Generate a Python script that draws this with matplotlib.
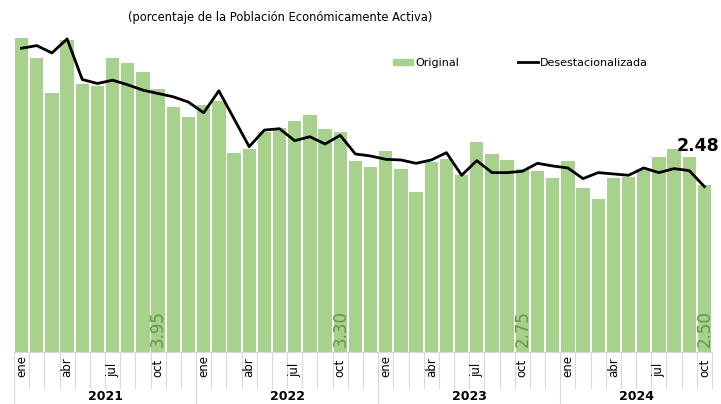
import matplotlib
matplotlib.use("Agg")
import matplotlib.pyplot as plt
from matplotlib.patches import Patch
from matplotlib.lines import Line2D
from matplotlib.transforms import blended_transform_factory

# datos mensuales ene-2021 a oct-2024
original = [4.72, 4.42, 3.88, 4.68, 4.02, 4.00, 4.41, 4.34, 4.21, 3.95, 3.68, 3.53,
            3.71, 3.77, 2.99, 3.05, 3.30, 3.36, 3.46, 3.56, 3.35, 3.30, 2.86, 2.77,
            3.02, 2.74, 2.40, 2.85, 2.89, 2.65, 3.15, 2.97, 2.88, 2.75, 2.72, 2.61,
            2.86, 2.46, 2.29, 2.61, 2.63, 2.73, 2.93, 3.05, 2.93, 2.50]
desest = [4.56, 4.60, 4.49, 4.70, 4.09, 4.03, 4.08, 4.01, 3.93, 3.88, 3.83, 3.75,
          3.59, 3.92, 3.50, 3.08, 3.33, 3.35, 3.17, 3.23, 3.12, 3.25, 2.97, 2.94,
          2.89, 2.88, 2.83, 2.88, 2.99, 2.65, 2.87, 2.69, 2.69, 2.71, 2.83, 2.79,
          2.76, 2.60, 2.69, 2.67, 2.65, 2.76, 2.69, 2.75, 2.72, 2.48]
meses = ['ene', 'feb', 'mar', 'abr', 'may', 'jun', 'jul', 'ago', 'sep', 'oct', 'nov', 'dic']
anios = ['2021', '2022', '2023', '2024']
etiquetas_oct = {9: '3.95', 21: '3.30', 33: '2.75', 45: '2.50'}

verde = '#A9D18E'
verde_osc = '#5E9B3E'
gris = '#D9D9D9'

fig = plt.figure(figsize=(7.21, 4.04), dpi=100)
ax = fig.add_axes([14 / 721, 52.5 / 404, 698 / 721, 332.5 / 404])

x = list(range(len(original)))
ax.bar(x, original, width=0.88, color=verde, zorder=1)
ax.plot(x, desest, color='black', lw=2, zorder=3)

ax.set_xlim(-0.5, len(original) - 0.5)
ax.set_ylim(0, 5.0)
ax.set_yticks([])
ax.set_xticks([])
for s in ['top', 'left', 'right']:
    ax.spines[s].set_visible(False)
ax.spines['bottom'].set_color(gris)

# valores de octubre dentro de las barras
for i, txt in etiquetas_oct.items():
    ax.text(i, 0.07, txt, rotation=90, ha='center', va='bottom',
            color=verde_osc, fontsize=12)

# último dato desestacionalizado
ty = blended_transform_factory(fig.transFigure, ax.transData)
ax.text(719 / 721, 3.09, '%.2f' % desest[-1], ha='right', va='center',
        fontsize=12.5, fontweight='bold', transform=ty, clip_on=False)

# eje x de dos niveles
tr = blended_transform_factory(ax.transData, fig.transFigure)
n = len(original)
for i in range(n):
    if i % 3 == 0:
        ax.text(i, 1 - 377 / 404, meses[i % 12], rotation=90, ha='center', va='bottom',
                fontsize=8.5, transform=tr, clip_on=False)
for i in range(n + 1):
    top = 1 - 352 / 404
    bottom = 0 if i % 12 == 0 else 1 - 388 / 404
    ax.plot([i - 0.5, i - 0.5], [top, bottom], color=gris, lw=0.8,
            transform=tr, clip_on=False)
for k, a in enumerate(anios):
    ini = k * 12
    fin = min(ini + 12, n)
    ax.text((ini + fin - 1) / 2, 1 - 396 / 404, a, ha='center', va='center',
            fontsize=9, fontweight='bold', transform=tr)

fig.text(280 / 721, 1 - 18 / 404, '(porcentaje de la Población Económicamente Activa)',
         ha='center', va='center', fontsize=8.3)

handles = [Patch(color=verde), Line2D([], [], color='black', lw=2)]
fig.legend(handles, ['Original', 'Desestacionalizada'], ncol=2, frameon=False,
           loc='center left', bbox_to_anchor=(383 / 721, 1 - 63 / 404),
           fontsize=8, handlelength=1.8, handleheight=0.5, handletextpad=0.2,
           columnspacing=5.3)

fig.savefig('out.png', dpi=100)
